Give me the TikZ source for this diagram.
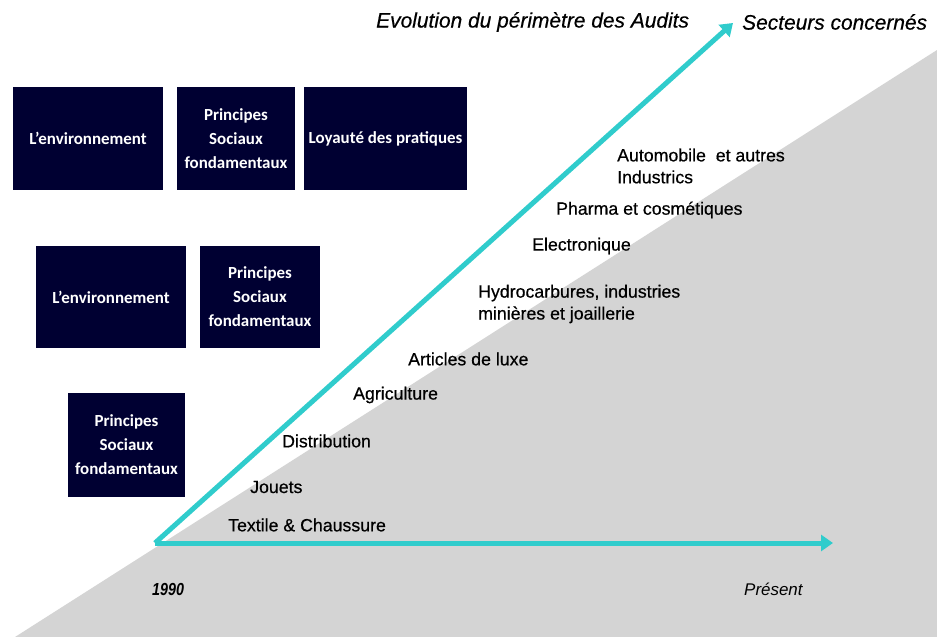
\documentclass[tikz,border=0pt]{standalone}
\usepackage{fontspec}
\setmainfont{Liberation Sans}
\newfontfamily\heavyfont[FakeBold=0.5]{Liberation Sans}
\newfontfamily\boxfont{Carlito}
\usetikzlibrary{arrows.meta}
\definecolor{navy}{RGB}{0,0,50}
\definecolor{teal2}{RGB}{48,204,204}
\definecolor{greyfill}{RGB}{212,212,212}
\tikzset{
  darkbox/.style={fill=navy, draw=none, text=white, align=center, inner sep=0pt,
    font=\boxfont\bfseries\fontsize{17}{24}\selectfont},
  sector/.style={anchor=west, inner sep=0pt, align=left, font=\heavyfont\fontsize{17.8}{22}\selectfont},
  title/.style={anchor=west, inner sep=0pt, font=\heavyfont\itshape\fontsize{21}{24}\selectfont},
  timeline/.style={draw=teal2, line width=5bp, -{Triangle[length=12bp,width=16bp]}}
}
\begin{document}
\begin{tikzpicture}[x=1bp,y=-1bp]
\useasboundingbox (0,0) rectangle (937,637);
% grey background triangle
\fill[greyfill] (15,637) -- (937,50) -- (937,637) -- cycle;

% titles
\node[title] (t1) at (376,22) {Evolution du périmètre des Audits};
\node[title] (t2) at (742,22) {Secteurs concernés};

% boxes row 1
\node[darkbox, minimum width=150bp, minimum height=103bp] (r1a) at (88,138.5) {L’environnement};
\node[darkbox, minimum width=118bp, minimum height=103bp] (r1b) at (236,138.5) {Principes\\Sociaux\\fondamentaux};
\node[darkbox, minimum width=163bp, minimum height=103bp] (r1c) at (385.5,138.5) {Loyauté des pratiques};
% row 2
\node[darkbox, minimum width=150bp, minimum height=102bp] (r2a) at (111,297) {L’environnement};
\node[darkbox, minimum width=120bp, minimum height=102bp] (r2b) at (260,297) {Principes\\Sociaux\\fondamentaux};
% row 3
\node[darkbox, minimum width=117bp, minimum height=104bp] (r3a) at (126.5,445) {Principes\\Sociaux\\fondamentaux};

% arrows
\coordinate (o) at (155,543);
\coordinate (tipD) at (733,23);
\coordinate (tipH) at (833,543);
\draw[timeline] (o) -- (tipD);
\draw[timeline] (o) -- (tipH);

% sectors
\node[sector] (s1) at (617,166) {Automobile\ \ et autres\\Industrics};
\node[sector] (s2) at (556,210) {Pharma et cosmétiques};
\node[sector] (s3) at (532,246) {Electronique};
\node[sector] (s4) at (478,304) {Hydrocarbures, industries\\minières et joaillerie};
\node[sector] (s5) at (408,359) {Articles de luxe};
\node[sector] (s6) at (353,395) {Agriculture};
\node[sector] (s7) at (282,441) {Distribution};
\node[sector] (s8) at (250,487) {Jouets};
\node[sector] (s9) at (228,525) {Textile \& Chaussure};

% time labels
\node[anchor=west, inner sep=0pt, font=\bfseries\itshape\fontsize{17.5}{20}\selectfont] (y0) at (152,589) {\scalebox{0.82}[1]{1990}};
\node[anchor=west, inner sep=0pt, font=\itshape\fontsize{17}{20}\selectfont] (y1) at (744,589) {Présent};
\end{tikzpicture}
\end{document}
